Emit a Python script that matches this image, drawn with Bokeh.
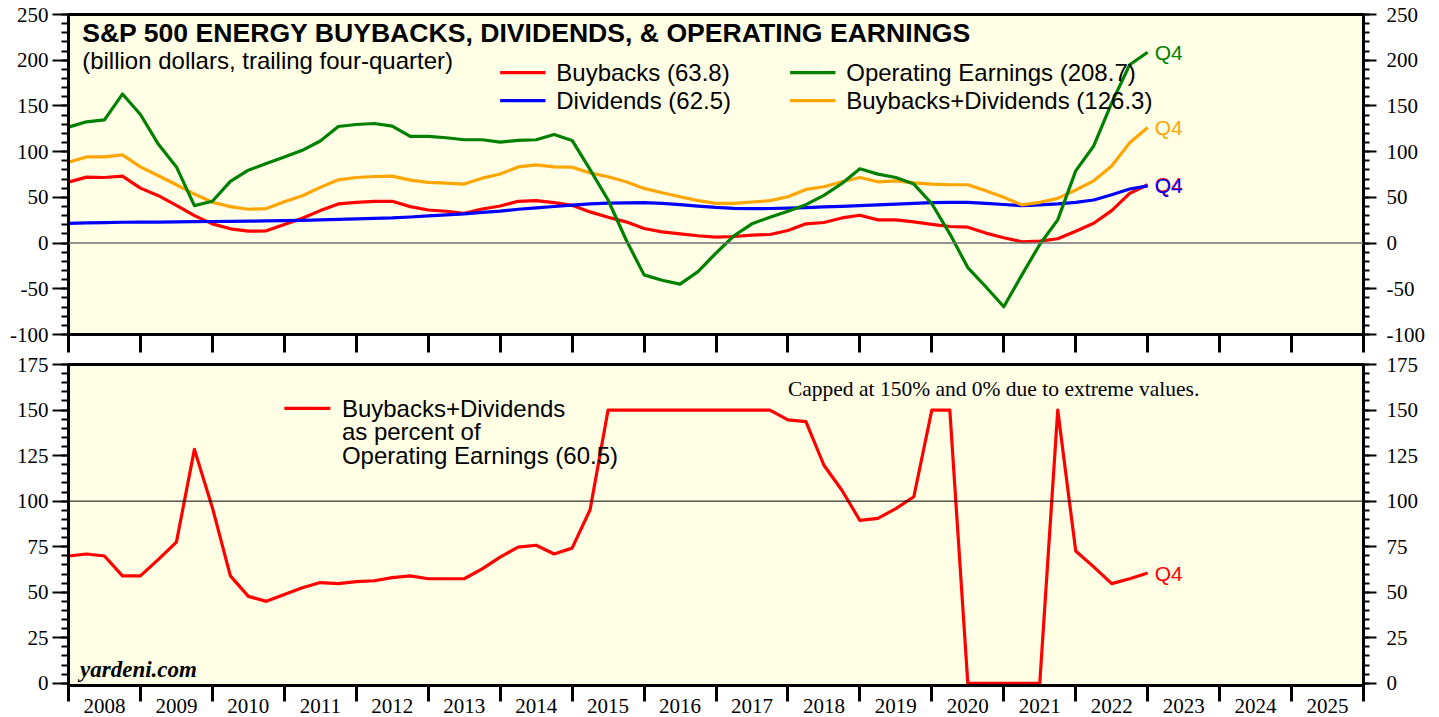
from bokeh.plotting import figure
from bokeh.models import (Range1d, LinearAxis, FixedTicker, CustomJSTickFormatter, Span, Label, Arrow)
from bokeh.layouts import column
from bokeh.embed import file_html
from bokeh.resources import INLINE

# ---------------- data (quarterly, trailing four-quarter, billion $) ----------------
quarters = [f"{y}Q{q}" for y in range(2007, 2023) for q in range(1, 5)][3:]  # 2007Q4 .. 2022Q4

buybacks = [66.7, 72.1, 71.7, 73.2, 60.1, 51.8, 41.3, 30.0, 21.0, 15.6, 13.0, 13.4, 20.3, 27.2, 35.5, 42.8,
            44.6, 45.7, 45.7, 39.9, 36.2, 34.8, 32.6, 37.3, 40.5, 45.7, 46.4, 44.2, 41.3, 34.1, 28.3, 23.2,
            15.9, 12.3, 10.1, 8.0, 6.5, 7.2, 8.7, 9.4, 13.8, 21.0, 22.5, 27.5, 30.4, 25.4, 25.4, 23.2,
            20.5, 18.1, 17.4, 10.9, 5.8, 1.4, 2.2, 4.7, 13.0, 21.7, 35.5, 54.3, 63.8]
dividends = [21.5, 22.0, 22.3, 22.8, 23.0, 23.0, 23.2, 23.4, 23.6, 23.8, 24.0, 24.2, 24.6, 24.8, 25.3, 25.9,
             26.5, 27.0, 27.5, 28.5, 29.8, 30.8, 32.0, 33.5, 35.0, 37.0, 38.5, 40.0, 41.5, 42.8, 43.6, 44.0,
             44.2, 43.5, 42.0, 40.5, 39.0, 38.0, 37.7, 37.8, 38.2, 38.8, 39.5, 40.2, 41.0, 41.8, 42.6, 43.4,
             44.3, 44.6, 44.5, 43.5, 42.2, 40.9, 41.8, 42.8, 44.6, 47.1, 52.9, 59.1, 62.5]
earnings = [126.8, 132.6, 134.8, 163.0, 140.6, 108.0, 83.3, 41.0, 45.7, 67.4, 79.7, 87.0, 94.2, 101.4, 111.6, 127.5,
            129.7, 130.8, 127.9, 116.7, 116.7, 115.2, 113.0, 113.0, 110.5, 112.3, 113.0, 118.8, 112.3, 80.4, 47.1, 3.6,
            -34.8, -40.6, -44.9, -31.2, -10.9, 8.0, 21.0, 28.3, 34.8, 42.0, 52.2, 65.2, 81.2, 75.4, 71.7, 64.5,
            43.0, 10.1, -26.8, -47.8, -69.6, -35.1, -1.5, 25.4, 79.0, 106.2, 153.3, 195.0, 208.7]
buybacks_plus_div = [88.4, 94.2, 94.2, 96.4, 83.3, 73.6, 63.8, 53.6, 44.6, 39.9, 37.0, 37.7, 45.3, 51.8, 60.9, 69.2,
                     71.7, 72.8, 73.2, 68.8, 66.3, 65.6, 64.5, 71.0, 75.5, 83.3, 85.5, 83.3, 83.0, 76.8, 72.5, 67.0,
                     59.8, 55.0, 50.7, 46.4, 43.5, 43.5, 44.9, 46.4, 50.7, 58.7, 61.6, 67.0, 71.7, 67.0, 68.1, 65.9,
                     64.5, 63.8, 63.8, 57.2, 50.0, 41.8, 44.6, 48.9, 58.0, 68.1, 84.4, 109.8, 126.3]
payout_pct = [69.9, 71.0, 69.9, 59.0, 59.0, 68.0, 77.5, 128.4, 96.4, 59.0, 47.7, 45.0, 48.8, 52.5, 55.3, 54.7,
              55.8, 56.3, 58.0, 59.0, 57.4, 57.4, 57.4, 62.8, 69.3, 74.8, 75.8, 71.0, 74.2, 95.3, 150.0, 150.0,
              150.0, 150.0, 150.0, 150.0, 150.0, 150.0, 150.0, 150.0, 144.6, 143.6, 119.7, 106.0, 89.4, 90.5, 95.9, 102.4,
              150.0, 150.0, 0.0, 0.0, 0.0, 0.0, 0.0, 150.0, 72.6, 63.9, 54.7, 57.4, 60.5]

years = list(range(2008, 2026))
top_ticks = list(range(-100, 251, 50))
top_minor = list(range(-100, 251, 10))
bot_ticks = list(range(0, 176, 25))
bot_minor = list(range(0, 176, 5))

# quarter-end position in fractional years
x = [int(q[:4]) + int(q[-1]) / 4.0 for q in quarters]

RED, BLUE, GREEN, ORANGE = "#FF0000", "#0000FF", "#008000", "#FFA500"
BG = "#FFFFE6"
SERIF = "Liberation Serif"
SANS = "Liberation Sans"
LW = 3.2


def style_y(ax, ticks, minor, out, minor_out, standoff):
    ax.ticker = FixedTicker(ticks=ticks, minor_ticks=minor)
    ax.major_tick_out = out
    ax.major_tick_in = 0
    ax.minor_tick_out = minor_out
    ax.minor_tick_in = 0
    ax.major_tick_line_width = 2
    ax.minor_tick_line_width = 2
    ax.axis_line_width = 3
    ax.major_label_text_font = SERIF
    ax.major_label_text_font_size = "21px"
    ax.major_label_text_color = "black"
    ax.major_label_standoff = standoff
    ax.major_label_overrides = {t: str(t) for t in ticks if t < 0}


def make_fig(yr, fh, bt, bb):
    p = figure(frame_width=1295, frame_height=fh, x_range=Range1d(2008, 2026), y_range=yr,
               output_backend="svg", toolbar_location=None,
               min_border_left=68, min_border_right=62, min_border_top=bt, min_border_bottom=bb,
               background_fill_color=BG, border_fill_color="white",
               outline_line_color="black", outline_line_width=3)
    p.xgrid.visible = False
    p.ygrid.visible = False
    return p


# ---------------- top panel ----------------
top = make_fig(Range1d(-100, 250), 320, 14, 20)
style_y(top.yaxis[0], top_ticks, top_minor, 16, 7, 4)
r_ax = LinearAxis()
style_y(r_ax, top_ticks, top_minor, 13, 6, 10)
top.add_layout(r_ax, "right")

xa = top.xaxis[0]
xa.ticker = FixedTicker(ticks=list(range(2008, 2027)))
xa.major_tick_out = 18
xa.major_tick_in = 0
xa.major_tick_line_width = 3
xa.minor_tick_out = 0
xa.axis_line_width = 3
xa.major_label_text_font_size = "0px"
xa.major_label_standoff = 0
xa.formatter = CustomJSTickFormatter(code="return '';")

top.add_layout(Span(location=0, dimension="width", line_color="#707070", line_width=1.5))

top.line(x, buybacks, line_color=RED, line_width=LW, line_join="round")
top.line(x, dividends, line_color=BLUE, line_width=LW, line_join="round")
top.line(x, buybacks_plus_div, line_color=ORANGE, line_width=LW, line_join="round")
top.line(x, earnings, line_color=GREEN, line_width=LW, line_join="round")

top.add_layout(Label(x=2008.19, y=229.3, text="S&P 500 ENERGY BUYBACKS, DIVIDENDS, & OPERATING EARNINGS",
                     text_font=SANS, text_font_size="26.6px", text_font_style="bold", text_color="black",
                     text_baseline="alphabetic"))
top.add_layout(Label(x=2008.19, y=199.2, text="(billion dollars, trailing four-quarter)",
                     text_font=SANS, text_font_size="24px", text_color="black", text_baseline="alphabetic"))

legend_items = [
    (2014.0, 186.4, RED, f"Buybacks ({buybacks[-1]:.1f})"),
    (2014.0, 155.8, BLUE, f"Dividends ({dividends[-1]:.1f})"),
    (2018.03, 186.4, GREEN, f"Operating Earnings ({earnings[-1]:.1f})"),
    (2018.03, 155.8, ORANGE, f"Buybacks+Dividends ({buybacks_plus_div[-1]:.1f})"),
]
for lx, ly, c, t in legend_items:
    top.add_layout(Arrow(end=None, x_start=lx, y_start=ly, x_end=lx + 0.63, y_end=ly, line_color=c, line_width=LW))
    top.add_layout(Label(x=lx + 0.78, y=ly, text=t, text_font=SANS, text_font_size="24px", text_color="black",
                         text_baseline="middle"))

for vals, c in [(earnings, GREEN), (buybacks_plus_div, ORANGE), (buybacks, RED), (dividends, BLUE)]:
    top.add_layout(Label(x=x[-1], y=vals[-1], x_offset=7, text="Q4", text_color=c, text_font=SANS,
                         text_font_size="21px", text_baseline="middle"))

# ---------------- bottom panel ----------------
bot = make_fig(Range1d(-1.2, 175), 321, 10, 32)
style_y(bot.yaxis[0], bot_ticks, bot_minor, 16, 7, 4)
r_ax2 = LinearAxis()
style_y(r_ax2, bot_ticks, bot_minor, 13, 6, 10)
bot.add_layout(r_ax2, "right")

xb = bot.xaxis[0]
xb.ticker = FixedTicker(ticks=[yy + 0.5 for yy in years], minor_ticks=list(range(2008, 2027)))
xb.major_tick_out = 0
xb.major_tick_in = 0
xb.minor_tick_out = 16
xb.minor_tick_in = 0
xb.minor_tick_line_width = 3
xb.axis_line_width = 3
xb.major_label_text_font = SERIF
xb.major_label_text_font_size = "21px"
xb.major_label_text_color = "black"
xb.major_label_standoff = -3
xb.formatter = CustomJSTickFormatter(code="return String(Math.floor(tick));")

bot.add_layout(Span(location=100, dimension="width", line_color="black", line_width=1))
bot.line(x, payout_pct, line_color=RED, line_width=LW, line_join="round")

bot.add_layout(Arrow(end=None, x_start=2011.0, y_start=150.9, x_end=2011.64, y_end=150.9, line_color=RED, line_width=LW))
for i, t in enumerate(["Buybacks+Dividends", "as percent of", f"Operating Earnings ({payout_pct[-1]:.1f})"]):
    bot.add_layout(Label(x=2011.8, y=150.9 - i * 12.8, text=t, text_font=SANS, text_font_size="24px",
                         text_color="black", text_baseline="middle"))
bot.add_layout(Label(x=2018.0, y=161.8, text="Capped at 150% and 0% due to extreme values.",
                     text_font=SERIF, text_font_size="21.5px", text_color="black", text_baseline="middle"))
bot.add_layout(Label(x=2008.16, y=7.4, text="yardeni.com", text_font=SERIF, text_font_size="23px",
                     text_font_style="bold italic", text_color="black", text_baseline="alphabetic"))
bot.add_layout(Label(x=x[-1], y=payout_pct[-1], x_offset=7, text="Q4", text_color=RED, text_font=SANS,
                     text_font_size="21px", text_baseline="middle"))

layout = column(top, bot, spacing=0)
open("out.html", "w").write(file_html(layout, INLINE))
